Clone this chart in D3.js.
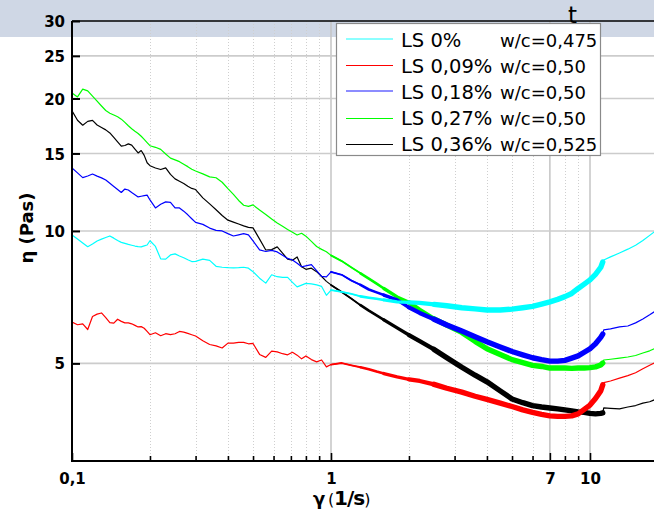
<!DOCTYPE html>
<html><head><meta charset="utf-8">
<script src="https://cdn.jsdelivr.net/npm/d3@7"></script>
<style>body{margin:0;background:#fff;} svg{display:block;}</style>
</head><body><svg id="c" width="654" height="511"></svg>
<script>
// shear rate γ (1/s), shared by all series
const gamma = [0.100,0.105,0.110,0.115,0.120,0.125,0.130,0.135,0.140,0.145,0.150,0.155,0.160,0.165,0.170,0.175,0.180,0.185,0.190,0.195,0.200,
  0.21,0.22,0.23,0.24,0.25,0.26,0.27,0.28,0.29,0.30,
  0.32,0.34,0.36,0.38,0.40,
  0.42,0.44,0.46,0.48,0.50,
  0.53,0.56,0.59,0.62,0.65,0.68,0.71,0.74,0.77,0.80,
  0.84,0.88,0.92,0.96,1.0,
  1.1,1.2,1.3,1.4,1.5,1.6,1.8,2.0,2.2,
  2.5,2.8,3.2,3.6,4.0,4.5,5.0,5.5,6.0,6.5,7.0,7.5,8.0,8.5,9.0,9.5,10,
  10.5,11.0,11.2,11.3,
  12,13,14,15,16,17,17.7];

// viscosity η (Pas)
const etaLS0 = [9.79,9.59,9.39,9.21,9.34,9.49,9.58,9.66,9.74,9.63,9.51,9.42,9.37,9.32,9.28,9.24,9.21,9.20,9.25,9.29,9.50,
  9.22,8.64,8.63,8.82,8.87,8.77,8.69,8.60,8.52,8.53,
  8.63,8.57,8.31,8.27,8.25,
  8.24,8.25,8.27,8.23,8.08,
  7.81,7.61,7.95,7.87,7.84,7.84,7.64,7.46,7.53,7.60,
  7.58,7.54,7.48,7.14,7.34,
  7.27,7.19,7.10,7.05,7.01,6.97,6.90,6.88,6.86,
  6.81,6.76,6.69,6.65,6.61,6.61,6.64,6.69,6.74,6.82,6.90,6.99,7.09,7.21,7.40,7.57,7.74,
  7.97,8.26,8.50,8.59,
  8.73,8.91,9.09,9.28,9.51,9.77,9.95];

const etaLS009 = [6.21,6.12,6.15,5.97,6.39,6.47,6.51,6.35,6.19,6.17,6.30,6.23,6.18,6.18,6.15,6.10,6.05,6.06,6.01,5.91,5.81,
  5.87,5.78,5.84,5.81,5.84,5.91,5.89,5.85,5.81,5.77,
  5.63,5.52,5.48,5.42,5.56,
  5.56,5.58,5.58,5.54,5.55,
  5.24,5.16,5.33,5.31,5.26,5.23,5.30,5.22,5.12,5.20,
  5.10,5.04,5.09,4.91,4.97,
  5.01,4.95,4.90,4.85,4.79,4.74,4.66,4.60,4.56,
  4.48,4.39,4.30,4.21,4.14,4.06,3.99,3.92,3.87,3.83,3.80,3.79,3.79,3.80,3.84,3.93,4.02,
  4.16,4.33,4.47,4.52,
  4.56,4.63,4.69,4.76,4.86,4.95,5.01];

const etaLS018 = [13.91,13.55,13.22,13.33,13.47,13.32,13.20,13.05,12.83,12.62,12.42,12.23,12.45,12.39,12.23,12.09,11.95,11.99,12.03,12.06,11.76,
  11.28,11.50,11.64,11.61,11.28,11.28,11.09,10.88,10.66,10.46,
  10.35,10.15,10.03,10.00,9.86,
  9.74,9.80,9.86,9.80,9.49,
  9.06,8.98,9.03,8.96,8.80,8.66,8.59,8.44,8.29,8.33,
  8.38,8.12,7.88,7.86,8.07,
  7.95,7.71,7.54,7.36,7.25,7.15,6.97,6.70,6.51,
  6.30,6.11,5.92,5.75,5.60,5.45,5.32,5.23,5.15,5.10,5.06,5.06,5.08,5.14,5.20,5.30,5.40,
  5.54,5.73,5.83,5.96,
  5.99,6.05,6.08,6.18,6.31,6.45,6.55];

const etaLS027 = [20.59,20.16,21.0,20.81,20.25,19.72,19.23,18.78,18.52,18.34,18.17,17.95,17.65,17.34,17.07,16.85,16.65,16.41,16.14,15.87,15.62,
  15.49,15.32,14.96,14.64,14.50,14.37,14.18,14.00,13.81,13.68,
  13.48,13.27,13.21,12.90,12.48,
  12.11,11.73,11.44,11.37,11.46,
  11.16,10.90,10.64,10.42,10.25,10.08,9.93,9.79,9.88,9.73,
  9.47,9.22,9.08,8.97,8.80,
  8.54,8.26,8.01,7.79,7.59,7.40,7.08,6.88,6.62,
  6.31,6.11,5.88,5.61,5.40,5.24,5.10,5.02,4.95,4.92,4.88,4.88,4.88,4.87,4.88,4.88,4.89,
  4.91,4.96,5.01,5.09,
  5.11,5.14,5.17,5.21,5.28,5.34,5.40];

const etaLS036 = [18.74,17.85,17.39,17.74,17.83,17.41,17.19,16.97,16.70,16.32,15.94,15.58,15.64,15.77,15.67,15.35,15.04,15.23,14.85,14.29,14.07,
  13.90,13.79,13.91,13.44,13.13,12.97,12.82,12.63,12.49,12.42,
  11.89,11.52,11.17,10.84,10.58,
  10.47,10.37,10.27,10.19,10.16,
  9.58,9.05,9.07,9.20,8.90,8.63,8.58,8.73,8.29,8.18,
  8.23,8.08,7.88,7.68,7.54,
  7.26,7.01,6.78,6.59,6.43,6.28,6.02,5.80,5.62,
  5.38,5.15,4.90,4.70,4.54,4.33,4.15,4.07,4.01,3.98,3.96,3.94,3.92,3.90,3.88,3.87,3.85,
  3.84,3.85,3.86,3.96,
  3.95,3.94,3.98,4.01,4.06,4.09,4.13];

const seriesLabels = ["LS 0%", "LS 0,09%", "LS 0,18%", "LS 0,27%", "LS 0,36%"];
const seriesWC = ["w/c=0,475", "w/c=0,50", "w/c=0,50", "w/c=0,50", "w/c=0,525"];
const seriesColors = ["#00ffff", "#ff0000", "#0000ff", "#00ff00", "#000000"];
const seriesValues = [etaLS0, etaLS009, etaLS018, etaLS027, etaLS036];

const xMajorTicks = [0.1, 1, 7, 10];
const xMajorLabels = ["0,1", "1", "7", "10"];
const xMinorTicks = [0.2,0.3,0.4,0.5,0.6,0.7,0.8,0.9,2,3,4,5,6,8,9];
const yTicks = [5, 10, 15, 20, 25, 30];
const yGrid = [5, 10, 15, 20, 25];

const W = 654, H = 511;
const L = 72, T = 21, B = 461, R = 654;
const svg = d3.select("#c");

svg.append("rect").attr("x",0).attr("y",0).attr("width",W).attr("height",37).attr("fill","#cfd7e5");

const x = d3.scaleLog().domain([0.1, 10]).range([L, 590]);
const y = d3.scaleLog().domain([3, 30]).range([B, T]);

svg.append("defs").append("clipPath").attr("id","clip")
  .append("rect").attr("x",L).attr("y",T).attr("width",R-L).attr("height",B-T);

// grid
const grid = svg.append("g");
grid.selectAll("line.minor").data(xMinorTicks).join("line")
  .attr("x1",d=>Math.round(x(d))+0.5).attr("x2",d=>Math.round(x(d))+0.5)
  .attr("y1",T).attr("y2",B).attr("stroke","#cfcfcf").attr("stroke-width",1).attr("stroke-dasharray","1,2");
grid.selectAll("line.vmaj").data([1,7,10]).join("line")
  .attr("x1",d=>x(d)).attr("x2",d=>x(d)).attr("y1",T).attr("y2",B)
  .attr("stroke","#c4c4c4").attr("stroke-width",1.5);
grid.selectAll("line.h").data(yGrid).join("line")
  .attr("x1",L).attr("x2",R).attr("y1",d=>y(d)).attr("y2",d=>y(d))
  .attr("stroke","#cccccc").attr("stroke-width",1.6);

// curves: thin line plus a noise band that thickens with shear rate
const line = d3.line().x(d=>x(d[0])).y(d=>y(d[1]));
const bands = [[1.0,1.3,1.8],[1.3,1.6,2.6],[1.6,2.0,3.4],[2.0,2.5,4.3],[2.5,11.2,5.4]];
const plot = svg.append("g").attr("clip-path","url(#clip)");
[4,3,2,1,0].forEach(si => {
  const pts = gamma.map((g,i)=>[g, seriesValues[si][i]]);
  const c = seriesColors[si];
  plot.append("path").datum(pts).attr("d",line).attr("fill","none")
    .attr("stroke",c).attr("stroke-width",1.2).attr("stroke-linejoin","round");
  bands.forEach(([lo,hi,w]) => {
    const seg = pts.filter(p => p[0] >= lo - 1e-9 && p[0] <= hi + 1e-9);
    plot.append("path").datum(seg).attr("d",line).attr("fill","none")
      .attr("stroke",c).attr("stroke-width",w).attr("stroke-linejoin","round").attr("stroke-linecap","round");
  });
});

// axes
const fontTick = "bold 15px 'DejaVu Sans'";
const xMinorAxis = svg.append("g").attr("transform",`translate(0,${B})`)
  .call(d3.axisBottom(x).tickValues(xMinorTicks).tickSize(-5).tickFormat(""));
const xMajorAxis = svg.append("g").attr("transform",`translate(0,${B})`)
  .call(d3.axisBottom(x).tickValues(xMajorTicks).tickSize(-8).tickPadding(12)
    .tickFormat((d,i)=>xMajorLabels[i]));
[xMinorAxis, xMajorAxis].forEach(g=>{
  g.select(".domain").remove();
  g.selectAll(".tick line").attr("stroke","#000").attr("stroke-width",1.6);
  g.selectAll("text").style("font", fontTick).attr("fill","#000");
});
const yAxis = svg.append("g").attr("transform",`translate(${L},0)`)
  .call(d3.axisLeft(y).tickValues(yTicks).tickSize(-8).tickPadding(7).tickFormat(d3.format("d")));
yAxis.select(".domain").remove();
yAxis.selectAll(".tick line").attr("stroke","#000").attr("stroke-width",2);
yAxis.selectAll("text").style("font", fontTick).attr("fill","#000").attr("dy","0.37em");

// frame
svg.append("line").attr("x1",L).attr("x2",R).attr("y1",T).attr("y2",T).attr("stroke","#000").attr("stroke-width",1.6);
svg.append("line").attr("x1",L).attr("x2",L).attr("y1",T).attr("y2",B+1).attr("stroke","#000").attr("stroke-width",2);
svg.append("line").attr("x1",L).attr("x2",R).attr("y1",B).attr("y2",B).attr("stroke","#000").attr("stroke-width",2);

// legend
const lg = svg.append("g");
lg.append("rect").attr("x",336.5).attr("y",23.5).attr("width",264).attr("height",132)
  .attr("fill","#fff").attr("stroke","#8a8a8a").attr("stroke-width",1.2);
seriesLabels.forEach((lab,i)=>{
  const ly = 39 + 26.2*i;
  const thick = (i===0 || i===2);
  lg.append("line").attr("x1",346).attr("x2",393)
    .attr("y1", thick ? Math.round(ly) : Math.round(ly)+0.5)
    .attr("y2", thick ? Math.round(ly) : Math.round(ly)+0.5)
    .attr("stroke", seriesColors[i]).attr("stroke-width",1)
    .attr("stroke-opacity", thick ? 0.9 : 1);
  lg.append("text").attr("x",401).attr("y",ly+7.5)
    .style("font","19.5px 'DejaVu Sans'").attr("fill","#000").text(lab);
  lg.append("text").attr("x",500).attr("y",ly+7.5)
    .style("font","18px 'DejaVu Sans'").attr("fill","#000").text(seriesWC[i]);
});

// stray title glyph at the top
svg.append("text").attr("x",568).attr("y",23).style("font","23px 'DejaVu Sans'").attr("fill","#000").text("t");

// axis titles
svg.append("text").attr("transform","translate(33,228) rotate(-90)").attr("text-anchor","middle")
  .style("font","bold 18px 'DejaVu Sans'").attr("fill","#000").text("η (Pas)");
const xt = svg.append("text").attr("y",505).attr("fill","#000");
xt.append("tspan").attr("x",313).style("font","bold 18px 'DejaVu Sans'").text("γ");
xt.append("tspan").attr("x",328).style("font","16px 'DejaVu Sans'").text("(");
xt.append("tspan").attr("x",334).style("font","bold 20px 'DejaVu Sans'").attr("letter-spacing","-1").text("1/s");
xt.append("tspan").style("font","16px 'DejaVu Sans'").text(")");
</script></body></html>
